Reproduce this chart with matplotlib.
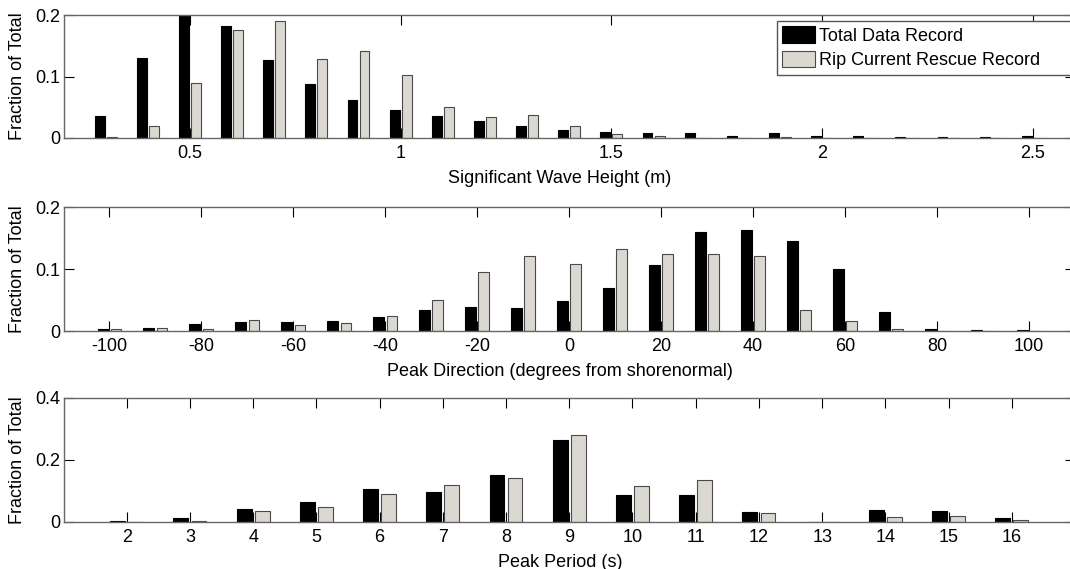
import numpy as np
import matplotlib
matplotlib.use('Agg')
import matplotlib.pyplot as plt

plt.rcParams['font.family'] = ['Liberation Sans', 'DejaVu Sans']

# significant wave height histogram
hs = [0.3, 0.4, 0.5, 0.6, 0.7, 0.8, 0.9, 1.0, 1.1, 1.2, 1.3, 1.4, 1.5, 1.6,
      1.7, 1.8, 1.9, 2.0, 2.1, 2.2, 2.3, 2.4, 2.5]
total_hs = [0.035, 0.130, 0.200, 0.182, 0.127, 0.087, 0.061, 0.046, 0.035,
            0.028, 0.019, 0.0135, 0.010, 0.0075, 0.0075, 0.004, 0.0075,
            0.004, 0.003, 0.0015, 0.0015, 0.0015, 0.003]
rip_hs = [0.0016, 0.020, 0.090, 0.176, 0.190, 0.128, 0.142, 0.102, 0.051,
          0.034, 0.038, 0.020, 0.006, 0.004, 0, 0, 0.0015, 0, 0, 0, 0, 0, 0]

# peak direction histogram
direc = [-100, -90, -80, -70, -60, -50, -40, -30, -20, -10, 0, 10, 20, 30,
         40, 50, 60, 70, 80, 90, 100]
total_dir = [0.0035, 0.005, 0.011, 0.014, 0.014, 0.0155, 0.0225, 0.034,
             0.0385, 0.0375, 0.049, 0.0695, 0.106, 0.160, 0.163, 0.145,
             0.100, 0.030, 0.0035, 0.0015, 0.0015]
rip_dir = [0.0035, 0.005, 0.0035, 0.018, 0.009, 0.0135, 0.025, 0.050,
           0.0955, 0.1215, 0.1085, 0.132, 0.125, 0.125, 0.121, 0.034,
           0.0165, 0.0035, 0, 0, 0]

# peak period histogram
period = [2, 3, 4, 5, 6, 7, 8, 9, 10, 11, 12, 13, 14, 15, 16]
total_tp = [0.003, 0.013, 0.043, 0.063, 0.107, 0.098, 0.151, 0.263, 0.0865,
            0.0865, 0.0335, 0, 0.040, 0.037, 0.013]
rip_tp = [0, 0.004, 0.037, 0.048, 0.090, 0.119, 0.142, 0.281, 0.116, 0.134,
          0.028, 0, 0.015, 0.018, 0.005]

legend_labels = ['Total Data Record', 'Rip Current Rescue Record']
gray = '#dad8d1'
fs = 13

W, H = 1070, 569
fig = plt.figure(figsize=(W / 100, H / 100), dpi=100)

left, right = 63.5, 1075
panels = [
    # x, total, rip, spacing, xlim, ylim, xticks, xticklabels, yticks, yticklabels, xlabel, top, bottom
    (hs, total_hs, rip_hs, 0.1, (0.2, 2.6), (0, 0.2),
     [0.5, 1, 1.5, 2, 2.5], ['0.5', '1', '1.5', '2', '2.5'],
     [0, 0.1, 0.2], ['0', '0.1', '0.2'], 'Significant Wave Height (m)', 15, 138),
    (direc, total_dir, rip_dir, 10, (-110, 110), (0, 0.2),
     list(range(-100, 101, 20)), [str(v) for v in range(-100, 101, 20)],
     [0, 0.1, 0.2], ['0', '0.1', '0.2'],
     'Peak Direction (degrees from shorenormal)', 207, 331),
    (period, total_tp, rip_tp, 1, (1, 17), (0, 0.4),
     period, [str(v) for v in period],
     [0, 0.2, 0.4], ['0', '0.2', '0.4'], 'Peak Period (s)', 398, 522),
]

axes = []
for (x, tot, rip, sp, xl, yl, xt, xtl, yt, ytl, xlab, top, bot) in panels:
    ax = fig.add_axes([left / W, (H - bot) / H, (right - left) / W, (bot - top) / H])
    x = np.array(x, dtype=float)
    bw = 0.235 * sp
    off = 0.143 * sp
    ax.bar(x - off, tot, bw, color='k', edgecolor='k', linewidth=0.8)
    ax.bar(x + off, rip, bw, color=gray, edgecolor='#4a4a4a', linewidth=0.8)
    ax.set_xlim(xl)
    ax.set_ylim(yl)
    ax.set_xticks(xt)
    ax.set_xticklabels(xtl)
    ax.set_yticks(yt)
    ax.set_yticklabels(ytl)
    ax.tick_params(direction='in', top=True, right=True, length=7.2,
                   width=0.8, color='k', labelsize=fs)
    ax.tick_params(axis='x', pad=5)
    ax.tick_params(axis='y', pad=2)
    for s in ax.spines.values():
        s.set_color('#666666')
        s.set_linewidth(1.0)
    ah = bot - top
    ax.set_xlabel(xlab, fontsize=fs)
    ax.xaxis.set_label_coords((560 - left) / (right - left), -32 / ah)
    ax.set_ylabel('Fraction of Total', fontsize=fs, va='center')
    ax.yaxis.set_label_coords((18 - left) / (right - left), 0.5)
    axes.append(ax)

# legend box in the top panel
ax = axes[0]
x0 = (777 - left) / (right - left)
x1 = (1080 - left) / (right - left)
y1 = (138 - 21) / 123
ax.legend(legend_labels, loc='upper left', bbox_to_anchor=(x0, 0, x1 - x0, y1),
          mode='expand', borderaxespad=0, fontsize=fs, fancybox=False,
          framealpha=1, edgecolor='#555555', handlelength=1.8,
          handleheight=1.0, handletextpad=0.2, labelspacing=0.36,
          borderpad=0.3)
ax.get_legend().get_frame().set_linewidth(1.0)

fig.savefig('out.png', dpi=100)
